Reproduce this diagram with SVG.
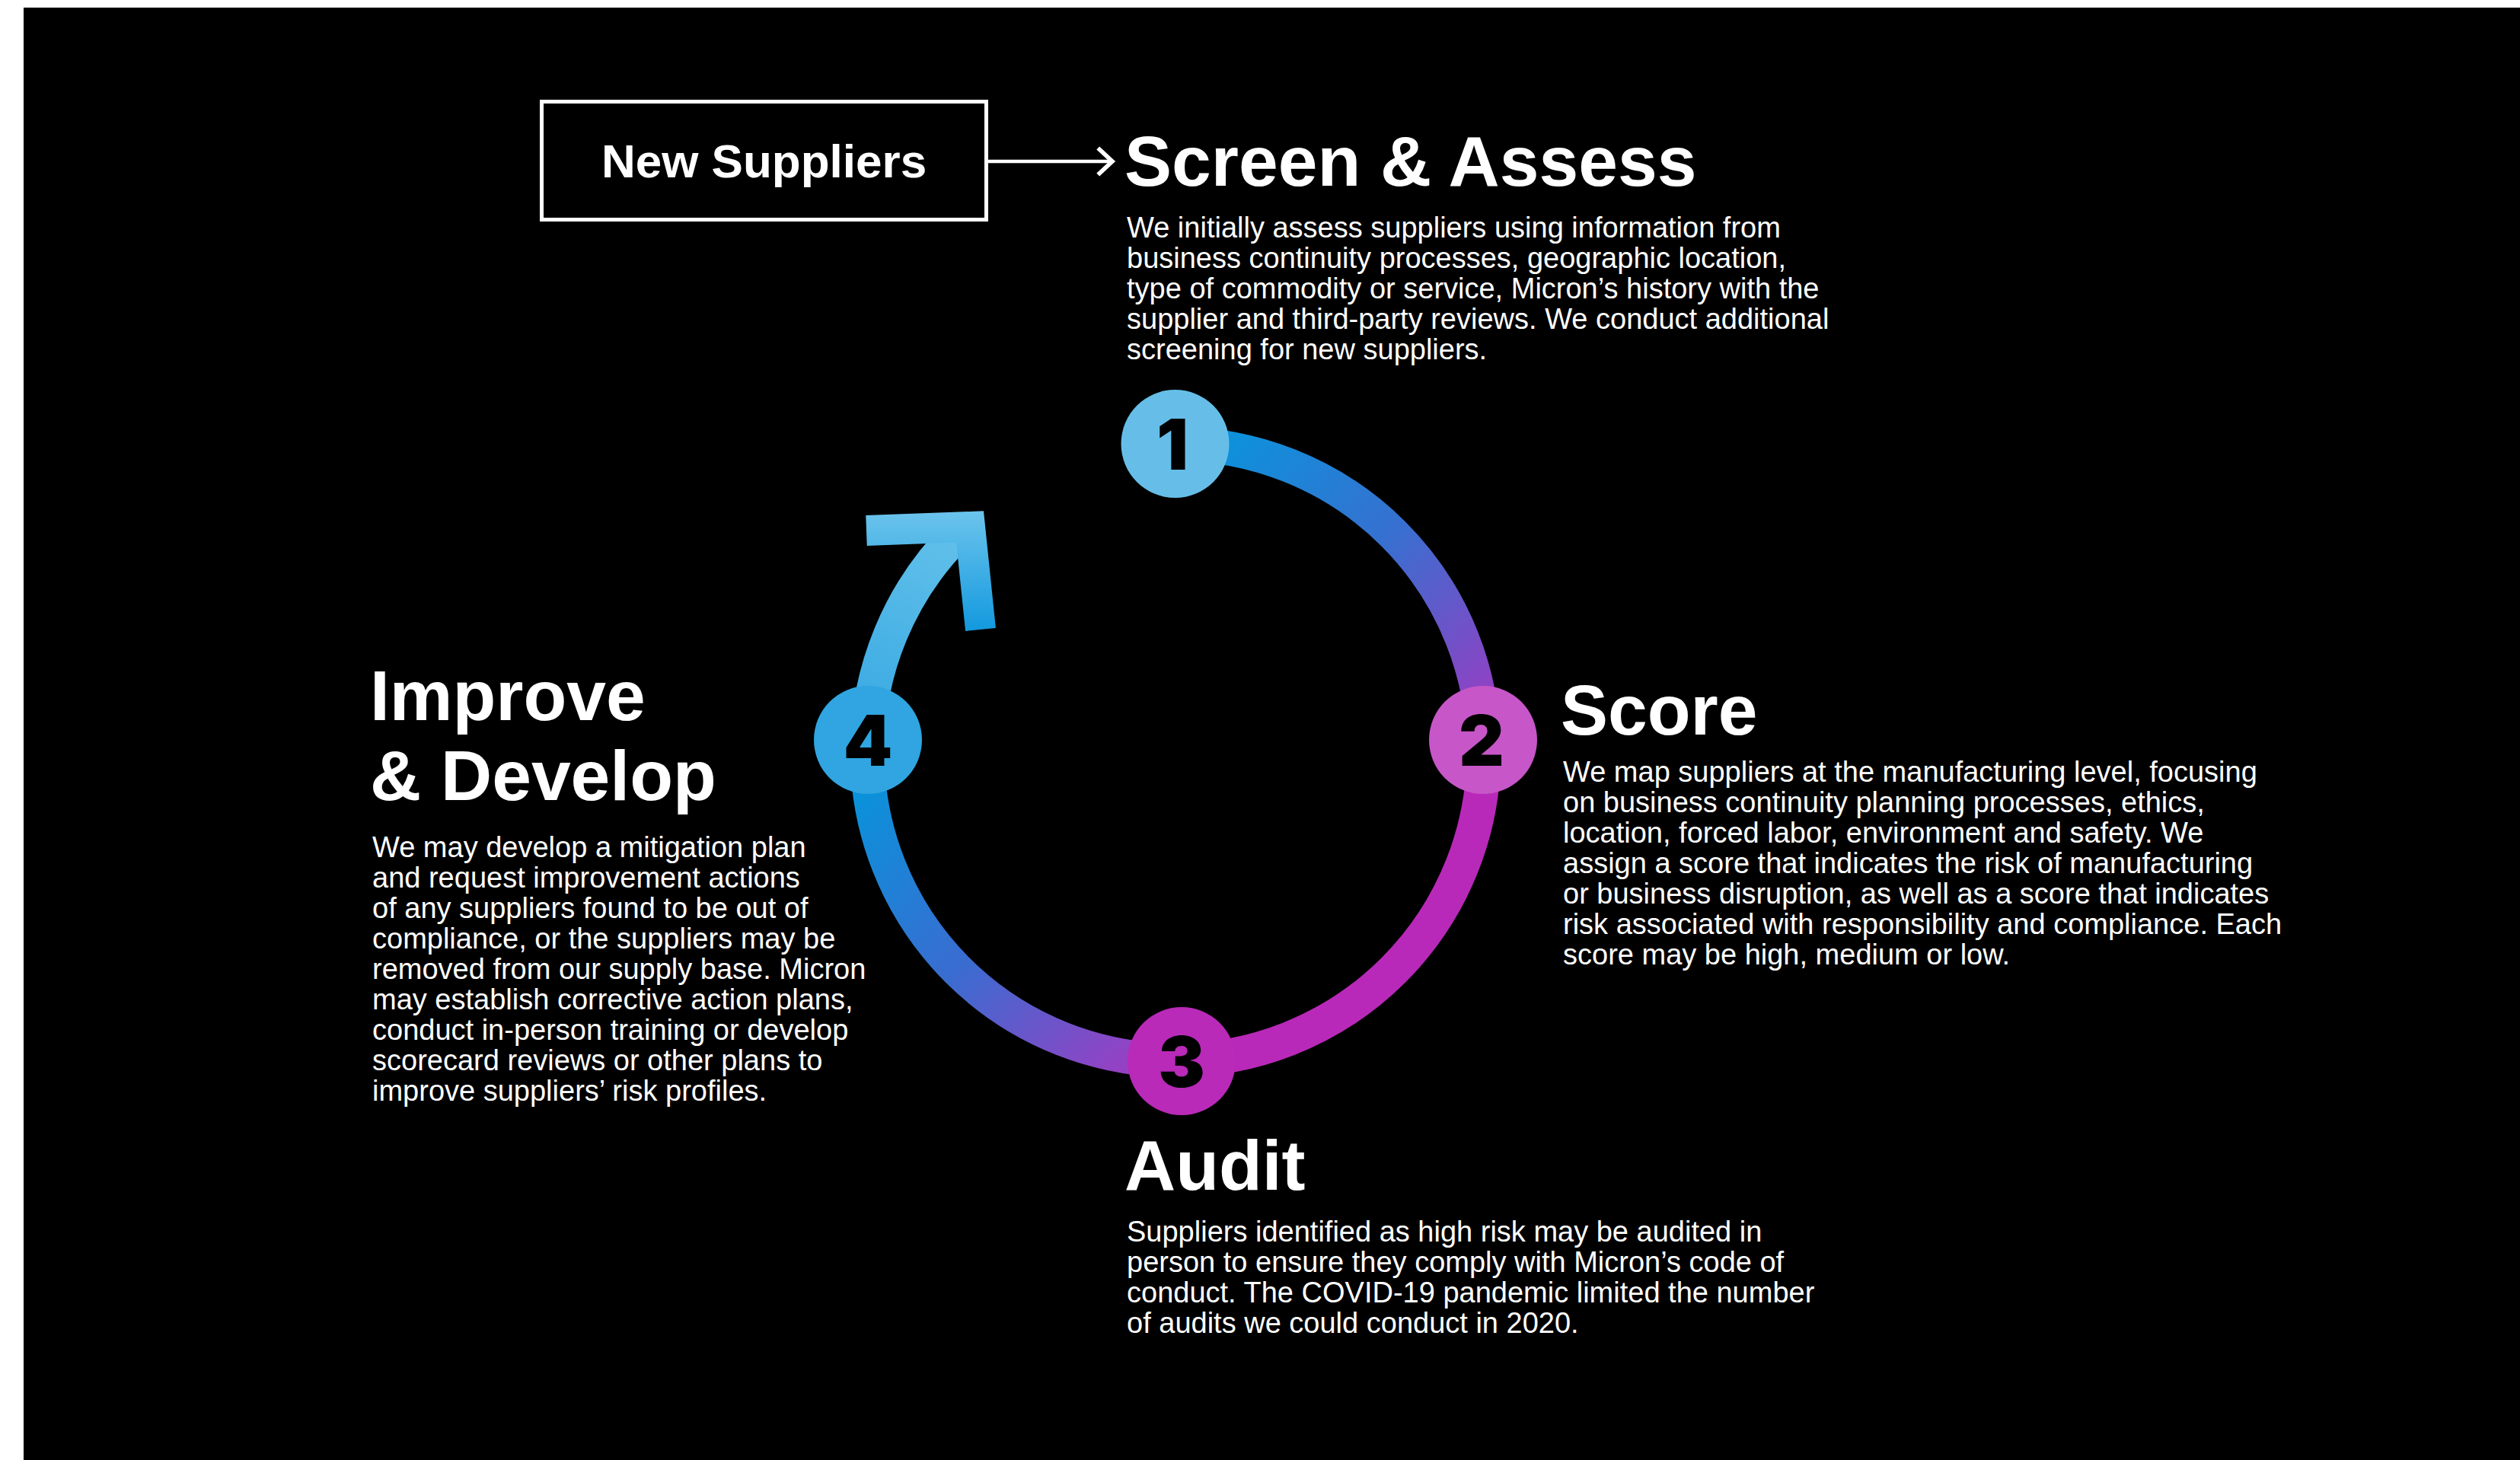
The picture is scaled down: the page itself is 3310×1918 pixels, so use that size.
<svg xmlns="http://www.w3.org/2000/svg" width="3310" height="1918" viewBox="0 0 3310 1918">
<style>
.title{font-family:"Liberation Sans",Arial,sans-serif;font-weight:700;font-size:93px;fill:#fff}
.body{font-family:"Liberation Sans",Arial,sans-serif;font-size:38px;fill:#fff}
.num{font-family:Inter,Roboto,"Liberation Sans",sans-serif;font-weight:900;font-size:92px;fill:#000;text-anchor:middle}
.ring{fill:none;stroke-width:45}
</style>
<defs>
<linearGradient id="gA" gradientUnits="userSpaceOnUse" x1="1560" y1="585" x2="1948" y2="960">
<stop offset="0" stop-color="#0896dc"/><stop offset="0.5" stop-color="#3670d0"/><stop offset="1" stop-color="#9a3cc2"/>
</linearGradient>
<linearGradient id="gC" gradientUnits="userSpaceOnUse" x1="1540" y1="1395" x2="1140" y2="990">
<stop offset="0" stop-color="#a43ac2"/><stop offset="0.5" stop-color="#3a6cd0"/><stop offset="1" stop-color="#0596dc"/>
</linearGradient>
<linearGradient id="gD" gradientUnits="userSpaceOnUse" x1="1140" y1="972" x2="1258" y2="702">
<stop offset="0" stop-color="#36a8e2"/><stop offset="1" stop-color="#62c0ea"/>
</linearGradient>
<linearGradient id="gE" gradientUnits="userSpaceOnUse" x1="0" y1="671" x2="0" y2="829">
<stop offset="0" stop-color="#6cc4ec"/><stop offset="1" stop-color="#1399de"/>
</linearGradient>
<marker id="open" markerUnits="userSpaceOnUse" markerWidth="30" markerHeight="40" viewBox="-20 -16 24 32" refX="0" refY="0" orient="auto">
<polyline points="-15,-14 0,0 -15,14" fill="none" stroke="#fff" stroke-width="4.5"/>
</marker>
</defs>
<rect x="0" y="0" width="3310" height="1918" fill="#fff"/>
<rect x="31" y="10" width="3279" height="1908" fill="#000"/>

<g id="connectors">
<line x1="1298" y1="212" x2="1461" y2="212" stroke="#fff" stroke-width="4.5" marker-end="url(#open)"/>
<path class="ring" stroke="url(#gA)" d="M1544,583 A405,405 0 0 1 1949,988"/>
<path class="ring" stroke="#b929b9" d="M1949,988 A405,405 0 0 1 1544,1393"/>
<path class="ring" stroke="url(#gC)" d="M1544,1393 A405,405 0 0 1 1139,988"/>
<path class="ring" stroke="url(#gD)" d="M1139,988 A405,405 0 0 1 1257.6,701.6"/>
<polyline points="1138,697 1274,692 1288,827" fill="none" stroke="url(#gE)" stroke-width="40" stroke-linejoin="miter" stroke-miterlimit="10"/>
</g>

<g id="node-new-suppliers">
<rect x="711.5" y="133.5" width="584" height="155" fill="none" stroke="#fff" stroke-width="5"/>
<text class="title" style="font-size:62px" x="1003.5" y="233" text-anchor="middle">New Suppliers</text>
</g>

<g id="node-1">
<circle cx="1543.5" cy="583" r="71" fill="#66bee8"/>
<text class="num" x="1540" y="617">1</text>
</g>
<g id="node-2">
<circle cx="1948" cy="972" r="71" fill="#c756c8"/>
<text class="num" x="1946" y="1006">2</text>
</g>
<g id="node-3">
<circle cx="1552" cy="1394" r="71" fill="#b92ab9"/>
<text class="num" x="1552" y="1428">3</text>
</g>
<g id="node-4">
<circle cx="1140" cy="972" r="71" fill="#30a5e1"/>
<text class="num" x="1140" y="1006">4</text>
</g>

<g id="node-screen">
<text class="title" x="1477" y="244">Screen &amp; Assess</text>
<text class="body" x="1480" y="312">We initially assess suppliers using information from</text>
<text class="body" x="1480" y="352">business continuity processes, geographic location,</text>
<text class="body" x="1480" y="392">type of commodity or service, Micron’s history with the</text>
<text class="body" x="1480" y="432">supplier and third-party reviews. We conduct additional</text>
<text class="body" x="1480" y="472">screening for new suppliers.</text>
</g>

<g id="node-score">
<text class="title" x="2050" y="965">Score</text>
<text class="body" x="2053" y="1027">We map suppliers at the manufacturing level, focusing</text>
<text class="body" x="2053" y="1067">on business continuity planning processes, ethics,</text>
<text class="body" x="2053" y="1107">location, forced labor, environment and safety. We</text>
<text class="body" x="2053" y="1147">assign a score that indicates the risk of manufacturing</text>
<text class="body" x="2053" y="1187">or business disruption, as well as a score that indicates</text>
<text class="body" x="2053" y="1227">risk associated with responsibility and compliance. Each</text>
<text class="body" x="2053" y="1267">score may be high, medium or low.</text>
</g>

<g id="node-audit">
<text class="title" x="1477" y="1563">Audit</text>
<text class="body" x="1480" y="1631">Suppliers identified as high risk may be audited in</text>
<text class="body" x="1480" y="1671">person to ensure they comply with Micron’s code of</text>
<text class="body" x="1480" y="1711">conduct. The COVID-19 pandemic limited the number</text>
<text class="body" x="1480" y="1751">of audits we could conduct in 2020.</text>
</g>

<g id="node-improve">
<text class="title" x="486" y="946">Improve</text>
<text class="title" x="486" y="1051">&amp; Develop</text>
<text class="body" x="489" y="1126">We may develop a mitigation plan</text>
<text class="body" x="489" y="1166">and request improvement actions</text>
<text class="body" x="489" y="1206">of any suppliers found to be out of</text>
<text class="body" x="489" y="1246">compliance, or the suppliers may be</text>
<text class="body" x="489" y="1286">removed from our supply base. Micron</text>
<text class="body" x="489" y="1326">may establish corrective action plans,</text>
<text class="body" x="489" y="1366">conduct in-person training or develop</text>
<text class="body" x="489" y="1406">scorecard reviews or other plans to</text>
<text class="body" x="489" y="1446">improve suppliers’ risk profiles.</text>
</g>
</svg>
